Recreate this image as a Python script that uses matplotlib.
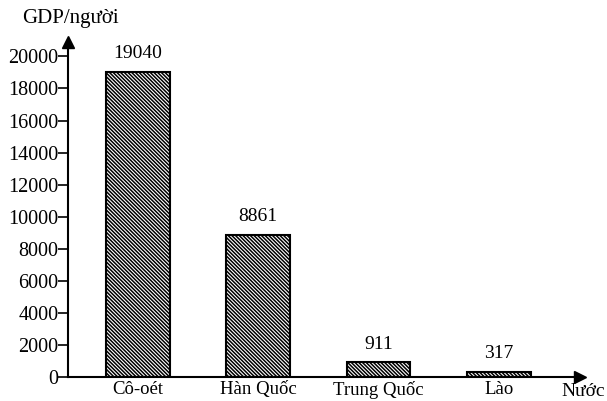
import matplotlib.pyplot as plt
import numpy as np

countries = ['Cô-oét', 'Hàn Quốc', 'Trung Quốc', 'Lào']
gdp = [19040, 8861, 911, 317]
yticks = [0, 2000, 4000, 6000, 8000, 10000, 12000, 14000, 16000, 18000, 20000]

plt.rcParams['font.family'] = ['Liberation Serif', 'DejaVu Serif']
plt.rcParams['hatch.linewidth'] = 1.1

fig = plt.figure(figsize=(6.07, 4.01), dpi=100)
# y axis at x=68, x axis at y=377, arrow tips ~ (582, 40)
ax = fig.add_axes([68/607, 24/401, 512/607, 335/401])

x = np.arange(len(countries))
ax.bar(x, gdp, width=0.53, color='white', edgecolor='black', linewidth=1.5, hatch='\\' * 9)

for xi, v in zip(x, gdp):
    ax.text(xi, v + 600, str(v), ha='center', va='bottom', fontsize=14)

ax.set_xlim(-0.582, 3.675)
ax.set_ylim(0, 20900)
ax.set_yticks(yticks)
ax.set_yticklabels([str(t) for t in yticks], fontsize=14.5)
ax.tick_params(axis='y', direction='out', length=7, width=1.2, pad=0)
ax.set_xticks(x)
ax.set_xticklabels(countries, fontsize=13.5)
ax.tick_params(axis='x', length=0, pad=3)

for s in ['top', 'right']:
    ax.spines[s].set_visible(False)
for s in ['left', 'bottom']:
    ax.spines[s].set_linewidth(1.5)

# arrow heads
ax.plot(1, 0, '>', color='black', markersize=8, transform=ax.transAxes, clip_on=False)
ax.plot(0, 1, '^', color='black', markersize=8, transform=ax.transAxes, clip_on=False)

fig.text(22/607, 1 - 19/401, 'GDP/người', fontsize=15, va='center', ha='left')
fig.text(605/607, 1 - 391/401, 'Nước', fontsize=14, va='center', ha='right')

fig.savefig('out.png', dpi=100)
